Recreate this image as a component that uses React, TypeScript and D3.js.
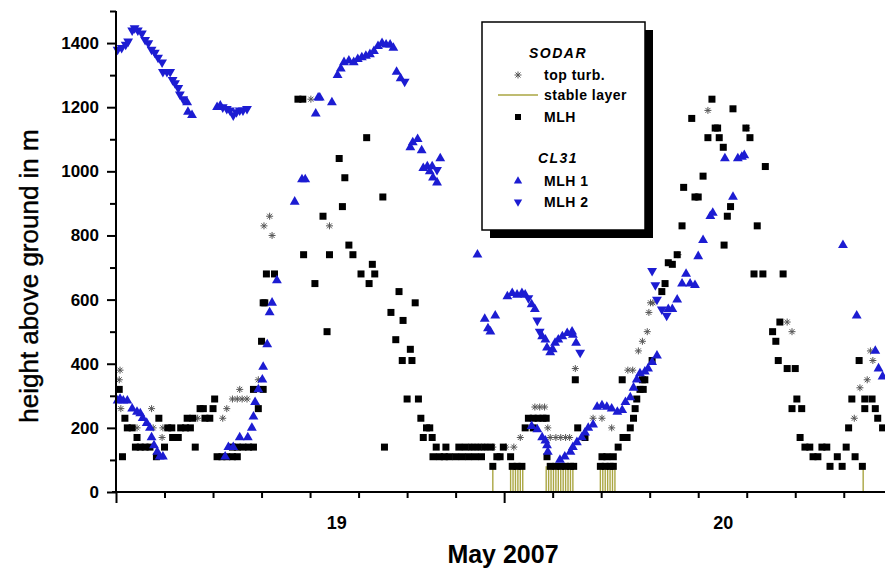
import React, { useEffect, useRef } from 'react';
import * as d3 from 'd3';

// hours counted from the left end of the time axis, heights in m
const sodarMlh: [number, number][] = [
  [0.2, 320], [0.4, 110], [0.55, 230], [0.7, 200], [1.0, 200], [1.3, 170], [1.2, 140], [1.5, 140], [1.8, 140], [2.1, 140],
  [2.5, 110], [3.0, 140], [2.65, 230], [3.2, 200], [3.45, 200], [3.5, 170], [3.85, 170], [4.0, 200], [4.3, 200], [4.6, 200],
  [4.9, 140], [4.4, 230], [4.75, 230], [5.2, 260], [5.4, 260], [5.5, 230], [5.8, 230], [6.0, 260], [6.1, 290],
  [6.25, 110], [6.55, 110], [6.85, 110], [7.2, 110], [7.5, 110], [7.2, 140], [7.5, 140], [7.85, 140], [8.2, 140], [8.5, 140],
  [8.5, 320], [9.1, 320], [8.8, 260], [9.0, 470], [9.1, 590], [9.2, 590], [9.3, 680], [9.8, 680],
  [11.25, 1225], [11.55, 1225], [11.6, 740], [12.3, 650], [12.8, 860], [13.2, 740], [13.8, 1040], [14.0, 890], [14.15, 980],
  [14.4, 770], [14.65, 740], [13.05, 500], [15.15, 680], [16.0, 680], [15.5, 1105], [15.65, 650], [15.85, 710], [16.5, 920],
  [16.6, 140], [17.0, 560], [17.3, 475], [17.5, 625], [17.7, 410], [18.3, 410], [17.75, 535], [18.2, 445], [18.5, 590],
  [18.0, 290], [18.7, 290], [18.85, 230], [19.2, 200], [19.4, 200], [19.0, 170], [19.55, 170],
  [19.8, 140], [20.4, 140], [21.2, 140], [21.6, 140], [22.0, 140], [22.4, 140], [22.8, 140], [23.2, 140],
  [19.6, 110], [20.0, 110], [20.3, 110], [20.6, 110], [21.0, 110], [21.4, 110], [21.8, 110], [22.2, 110], [22.6, 110],
  [23.3, 80], [23.55, 110], [23.75, 110], [23.95, 140], [24.4, 110], [24.5, 80], [24.8, 80], [25.1, 80], [25.3, 200],
  [25.5, 230], [25.8, 230], [26.1, 230], [26.4, 230], [26.6, 230], [25.8, 200], [26.65, 110],
  [26.85, 80], [27.2, 80], [27.5, 80], [27.8, 80], [28.1, 80], [28.3, 80], [28.4, 350], [28.55, 200], [29.0, 170],
  [30.05, 110], [30.35, 110], [30.75, 110], [29.95, 80], [30.25, 80], [30.55, 80], [30.75, 80], [31.05, 140],
  [31.35, 170], [31.6, 170], [31.3, 350], [31.8, 200], [32.0, 230], [32.1, 260], [32.2, 290], [32.4, 320], [32.6, 320],
  [32.55, 350], [32.7, 350], [33.15, 410], [33.75, 625], [33.95, 650], [34.15, 715], [34.4, 710], [34.7, 740],
  [35.0, 830], [35.1, 950], [35.6, 1165], [35.8, 920], [36.0, 920], [36.3, 985], [36.6, 1105], [36.85, 1225],
  [37.05, 1135], [37.2, 1135], [37.3, 1105], [37.55, 1075], [37.6, 770], [37.8, 860], [38.0, 890], [38.15, 1195],
  [38.95, 1135], [39.2, 1105], [39.45, 680], [40.0, 680], [39.65, 830], [40.15, 1015], [41.25, 680],
  [40.6, 500], [40.8, 470], [41.05, 530], [40.95, 410], [41.5, 385], [42.0, 385], [42.1, 290], [41.8, 260], [42.4, 260],
  [42.3, 170], [42.6, 140], [42.9, 140], [43.1, 110], [43.4, 110], [43.65, 140], [43.95, 140], [44.15, 80], [44.9, 80],
  [44.6, 110], [45.15, 140], [45.7, 110], [46.15, 80], [45.3, 200], [45.5, 290], [45.95, 410], [46.3, 290], [46.75, 290],
  [46.3, 260], [46.95, 260], [47.1, 230], [47.4, 200],
];

const topTurb: [number, number][] = [
  [0.25, 380], [0.2, 350], [0.3, 260], [1.3, 200], [2.2, 260], [2.3, 200], [2.85, 170], [2.9, 200], [5.05, 230],
  [6.6, 230], [6.85, 260], [7.2, 290], [7.5, 290], [7.8, 290], [8.1, 290], [7.65, 320], [8.8, 350],
  [9.15, 830], [9.5, 860], [9.65, 800], [12.05, 1225], [13.2, 830],
  [22.0, 140], [22.4, 140], [22.8, 140], [23.3, 140], [24.1, 140], [24.6, 140], [25.0, 170],
  [25.9, 265], [26.2, 265], [26.5, 265], [26.7, 200], [26.85, 170], [27.2, 170], [27.5, 170], [27.8, 170], [28.05, 170],
  [28.4, 385], [29.5, 230], [30.05, 230], [30.65, 200], [31.65, 380], [31.95, 380], [32.3, 440], [32.55, 470],
  [32.85, 500], [32.95, 560], [33.05, 590], [33.2, 590], [34.75, 740], [35.9, 920], [36.6, 1190], [39.0, 1135],
  [41.5, 530], [41.8, 500], [45.65, 230], [46.0, 325], [46.45, 350], [46.65, 440], [46.8, 410],
];

const stableLayer: [number, number][] = [
  [23.3, 80],
  [24.4, 80], [24.55, 80], [24.7, 80], [24.85, 80], [25.0, 80], [25.15, 80],
  [26.6, 80], [26.75, 80], [26.9, 80], [27.05, 80], [27.2, 80], [27.35, 80], [27.5, 80], [27.65, 80], [27.8, 80],
  [27.95, 80], [28.1, 80], [28.25, 80],
  [29.95, 80], [30.1, 80], [30.25, 80], [30.4, 80], [30.55, 80], [30.7, 80], [30.85, 80],
  [46.2, 80],
];

const cl31Mlh1: [number, number][] = [
  [0.1, 285], [0.25, 290], [0.45, 285], [0.7, 285], [1.0, 260], [1.3, 250], [1.5, 245], [1.65, 230], [1.9, 215],
  [2.1, 200], [2.2, 170], [2.35, 145], [2.55, 125], [2.7, 110], [2.9, 110],
  [4.4, 1215], [4.45, 1185], [4.7, 1175], [6.25, 1200], [6.45, 1205],
  [6.75, 110], [6.95, 140], [7.25, 140], [7.65, 170], [8.15, 170], [8.4, 200], [8.5, 235], [8.6, 280], [8.8, 320],
  [9.05, 350], [9.1, 390], [9.35, 460], [9.5, 560], [9.65, 590], [9.95, 660], [11.05, 905], [11.5, 975], [11.7, 975],
  [12.35, 1180], [12.5, 1230], [12.6, 1230], [13.35, 1215],
  [13.7, 1300], [13.9, 1320], [14.1, 1340], [14.4, 1345], [14.7, 1340], [14.95, 1350], [15.2, 1355], [15.45, 1360],
  [15.7, 1365], [15.95, 1375], [16.2, 1390], [16.45, 1400], [16.7, 1395], [16.95, 1395], [17.15, 1385],
  [17.35, 1310], [17.6, 1290],
  [18.2, 1075], [18.35, 1090], [18.65, 1100], [18.9, 1065], [20.05, 1040], [19.0, 1010], [19.25, 1015], [19.55, 1015],
  [19.4, 1000], [19.6, 980], [19.85, 965],
  [22.35, 740], [22.8, 540], [23.0, 510], [23.15, 500], [23.45, 550],
  [24.2, 610], [24.5, 620], [24.8, 615], [25.1, 620], [25.3, 615], [25.7, 585], [25.9, 570], [26.35, 485], [26.55, 475],
  [26.65, 450], [26.85, 435], [27.0, 445], [27.15, 465], [27.35, 475], [27.6, 485], [27.9, 495], [28.2, 500], [28.25, 490],
  [28.45, 465],
  [25.7, 205], [26.05, 195], [26.35, 170], [26.55, 160], [26.65, 145], [26.7, 125],
  [27.45, 100], [27.75, 110], [28.1, 125], [28.25, 140], [28.5, 155], [28.8, 170], [29.0, 185], [29.2, 200], [29.5, 210],
  [29.75, 265], [30.05, 270], [30.35, 265], [30.65, 260], [31.0, 250], [31.3, 255], [31.5, 280], [31.8, 295], [32.0, 325],
  [32.2, 350], [32.4, 370], [32.7, 375], [32.9, 385], [33.15, 405], [33.45, 425],
  [34.15, 570], [34.4, 570], [34.7, 600], [35.0, 650], [35.5, 650], [35.8, 645], [35.25, 680], [36.0, 735], [36.3, 785],
  [36.75, 860], [36.9, 870], [38.15, 920], [37.65, 1040], [38.45, 1040], [38.7, 1045], [38.85, 1050],
  [44.95, 770], [45.8, 550], [46.95, 440], [47.15, 385], [47.4, 360],
];

const cl31Mlh2: [number, number][] = [
  [0.1, 1380], [0.35, 1385], [0.6, 1395], [0.75, 1405], [1.0, 1440], [1.15, 1447], [1.35, 1440], [1.6, 1430],
  [1.8, 1410], [2.0, 1400], [2.2, 1380], [2.4, 1370], [2.6, 1355], [2.85, 1340], [2.9, 1310], [3.15, 1310],
  [3.35, 1310], [3.5, 1285], [3.65, 1275], [3.85, 1260], [3.95, 1240], [4.15, 1225],
  [6.6, 1200], [6.85, 1195], [7.05, 1190], [7.25, 1175], [7.45, 1185], [7.65, 1190], [7.85, 1190], [8.1, 1195],
  [17.85, 1280], [19.85, 1005],
  [25.5, 605], [26.05, 535], [26.2, 500], [28.7, 435],
  [33.15, 690], [33.35, 645], [33.45, 600], [33.75, 570], [34.05, 550],
];

const yMajorTicks = [0, 200, 400, 600, 800, 1000, 1200, 1400];
const yMinorTicks = [100, 300, 500, 700, 900, 1100, 1300, 1500];
const xTicks = [0, 3, 6, 9, 12, 15, 18, 21, 24, 27, 30, 33, 36, 39, 42, 45];
const xLongTicks = [0, 24];
const dayLabels = ['19', '20'];
const dayLabelHours = [13.65, 37.55];

const BLUE = '#1c1cd2';
const OLIVE = '#aaa642';
const FONT = '"Liberation Sans", Arial, sans-serif';

export default function App() {
  const ref = useRef<SVGSVGElement>(null);

  useEffect(() => {
    const svg = d3.select(ref.current);
    svg.selectAll('*').remove();

    const x = d3.scaleLinear().domain([0, 47.55]).range([116, 885]);
    const y = d3.scaleLinear().domain([0, 1500]).range([492, 11]);

    // stable layer lines
    svg.append('g')
      .selectAll('line')
      .data(stableLayer)
      .join('line')
      .attr('x1', d => x(d[0])).attr('x2', d => x(d[0]))
      .attr('y1', y(0)).attr('y2', d => y(d[1]))
      .attr('stroke', OLIVE).attr('stroke-width', 1.4);

    // top turb asterisks
    const star = 'M-3.5,0H3.5M0,-3.5V3.5M-2.5,-2.5L2.5,2.5M-2.5,2.5L2.5,-2.5';
    svg.append('g')
      .selectAll('path')
      .data(topTurb)
      .join('path')
      .attr('d', star)
      .attr('transform', d => `translate(${x(d[0])},${y(d[1])})`)
      .attr('stroke', '#555').attr('stroke-width', 1).attr('fill', 'none');

    // SODAR MLH squares
    svg.append('g')
      .selectAll('rect')
      .data(sodarMlh)
      .join('rect')
      .attr('x', d => x(d[0]) - 3.5).attr('y', d => y(d[1]) - 3.5)
      .attr('width', 7).attr('height', 7)
      .attr('fill', '#000');

    const tri = d3.symbol(d3.symbolTriangle, 42)();
    svg.append('g')
      .selectAll('path')
      .data(cl31Mlh1)
      .join('path')
      .attr('d', tri)
      .attr('transform', d => `translate(${x(d[0])},${y(d[1])})`)
      .attr('fill', BLUE);

    svg.append('g')
      .selectAll('path')
      .data(cl31Mlh2)
      .join('path')
      .attr('d', tri)
      .attr('transform', d => `translate(${x(d[0])},${y(d[1])}) rotate(180)`)
      .attr('fill', BLUE);

    // y axis
    const yAxis = svg.append('g').attr('transform', `translate(${x(0)},0)`);
    yAxis.call(d3.axisLeft(y).tickValues(yMajorTicks).tickFormat(d3.format('d')).tickSize(9).tickSizeOuter(0).tickPadding(8))
      .call(g => g.select('.domain').attr('d', `M0,${y(0)}V${y(1500)}`));
    yAxis.append('g').call(d3.axisLeft(y).tickValues(yMinorTicks).tickSize(6).tickFormat(() => ''))
      .call(g => g.select('.domain').remove());
    yAxis.selectAll('line, path').attr('stroke', '#000').attr('stroke-width', 2);
    yAxis.selectAll('text')
      .attr('font-family', FONT).attr('font-size', 17).attr('font-weight', 'bold').attr('fill', '#000');

    // x axis
    const xAxis = svg.append('g').attr('transform', `translate(0,${y(0)})`);
    xAxis.call(d3.axisBottom(x).tickValues(xTicks).tickSize(6).tickSizeOuter(0).tickFormat(() => ''))
      .call(g => g.select('.domain').attr('d', `M${x(0) - 4},0H885`));
    xAxis.selectAll('.tick line').filter((d: any) => xLongTicks.includes(d)).attr('y2', 11);
    xAxis.selectAll('line, path').attr('stroke', '#000').attr('stroke-width', 2);
    xAxis.selectAll('.day')
      .data(dayLabels)
      .join('text')
      .attr('class', 'day')
      .attr('x', (d, i) => x(dayLabelHours[i]))
      .attr('y', 37)
      .attr('text-anchor', 'middle')
      .attr('fill', '#000')
      .attr('font-family', FONT).attr('font-size', 18).attr('font-weight', 'bold')
      .text(d => d);

    svg.append('text')
      .attr('x', 503).attr('y', 563)
      .attr('text-anchor', 'middle')
      .attr('font-family', FONT).attr('font-size', 25).attr('font-weight', 'bold')
      .text('May 2007');

    svg.append('text')
      .attr('transform', 'translate(38,276) rotate(-90)')
      .attr('text-anchor', 'middle')
      .attr('font-family', FONT).attr('font-size', 26)
      .attr('stroke', '#000').attr('stroke-width', 0.4)
      .text('height above ground in m');

    // legend
    const lg = svg.append('g');
    lg.append('rect').attr('x', 490).attr('y', 30).attr('width', 163).attr('height', 208).attr('fill', '#000');
    lg.append('rect').attr('x', 482).attr('y', 22).attr('width', 163).attr('height', 208)
      .attr('fill', '#fff').attr('stroke', '#000').attr('stroke-width', 1.5);
    const txt = (t: string, tx: number, ty: number, italic = false, anchor = 'start') =>
      lg.append('text').attr('x', tx).attr('y', ty).attr('text-anchor', anchor)
        .attr('font-family', FONT).attr('font-size', 14).attr('font-weight', 'bold')
        .attr('font-style', italic ? 'italic' : 'normal')
        .attr('letter-spacing', italic ? 1.5 : 0.5)
        .text(t);
    txt('SODAR', 558, 58, true, 'middle');
    txt('top turb.', 544, 80);
    txt('stable layer', 544, 100);
    txt('MLH', 544, 122);
    txt('CL31', 558, 163, true, 'middle');
    txt('MLH 1', 544, 186);
    txt('MLH 2', 544, 207);
    lg.append('path').attr('d', star).attr('transform', 'translate(518,75)')
      .attr('stroke', '#555').attr('fill', 'none');
    lg.append('line').attr('x1', 498).attr('x2', 538).attr('y1', 95).attr('y2', 95)
      .attr('stroke', OLIVE).attr('stroke-width', 1.5);
    lg.append('rect').attr('x', 515).attr('y', 114).attr('width', 6).attr('height', 6).attr('fill', '#000');
    lg.append('path').attr('d', d3.symbol(d3.symbolTriangle, 30)()).attr('transform', 'translate(518,181)').attr('fill', BLUE);
    lg.append('path').attr('d', d3.symbol(d3.symbolTriangle, 30)()).attr('transform', 'translate(518,202) rotate(180)').attr('fill', BLUE);
  }, []);

  return (
    <svg ref={ref} width={885} height={572} style={{ position: 'absolute', left: 0, top: 0, background: '#fff' }} />
  );
}
